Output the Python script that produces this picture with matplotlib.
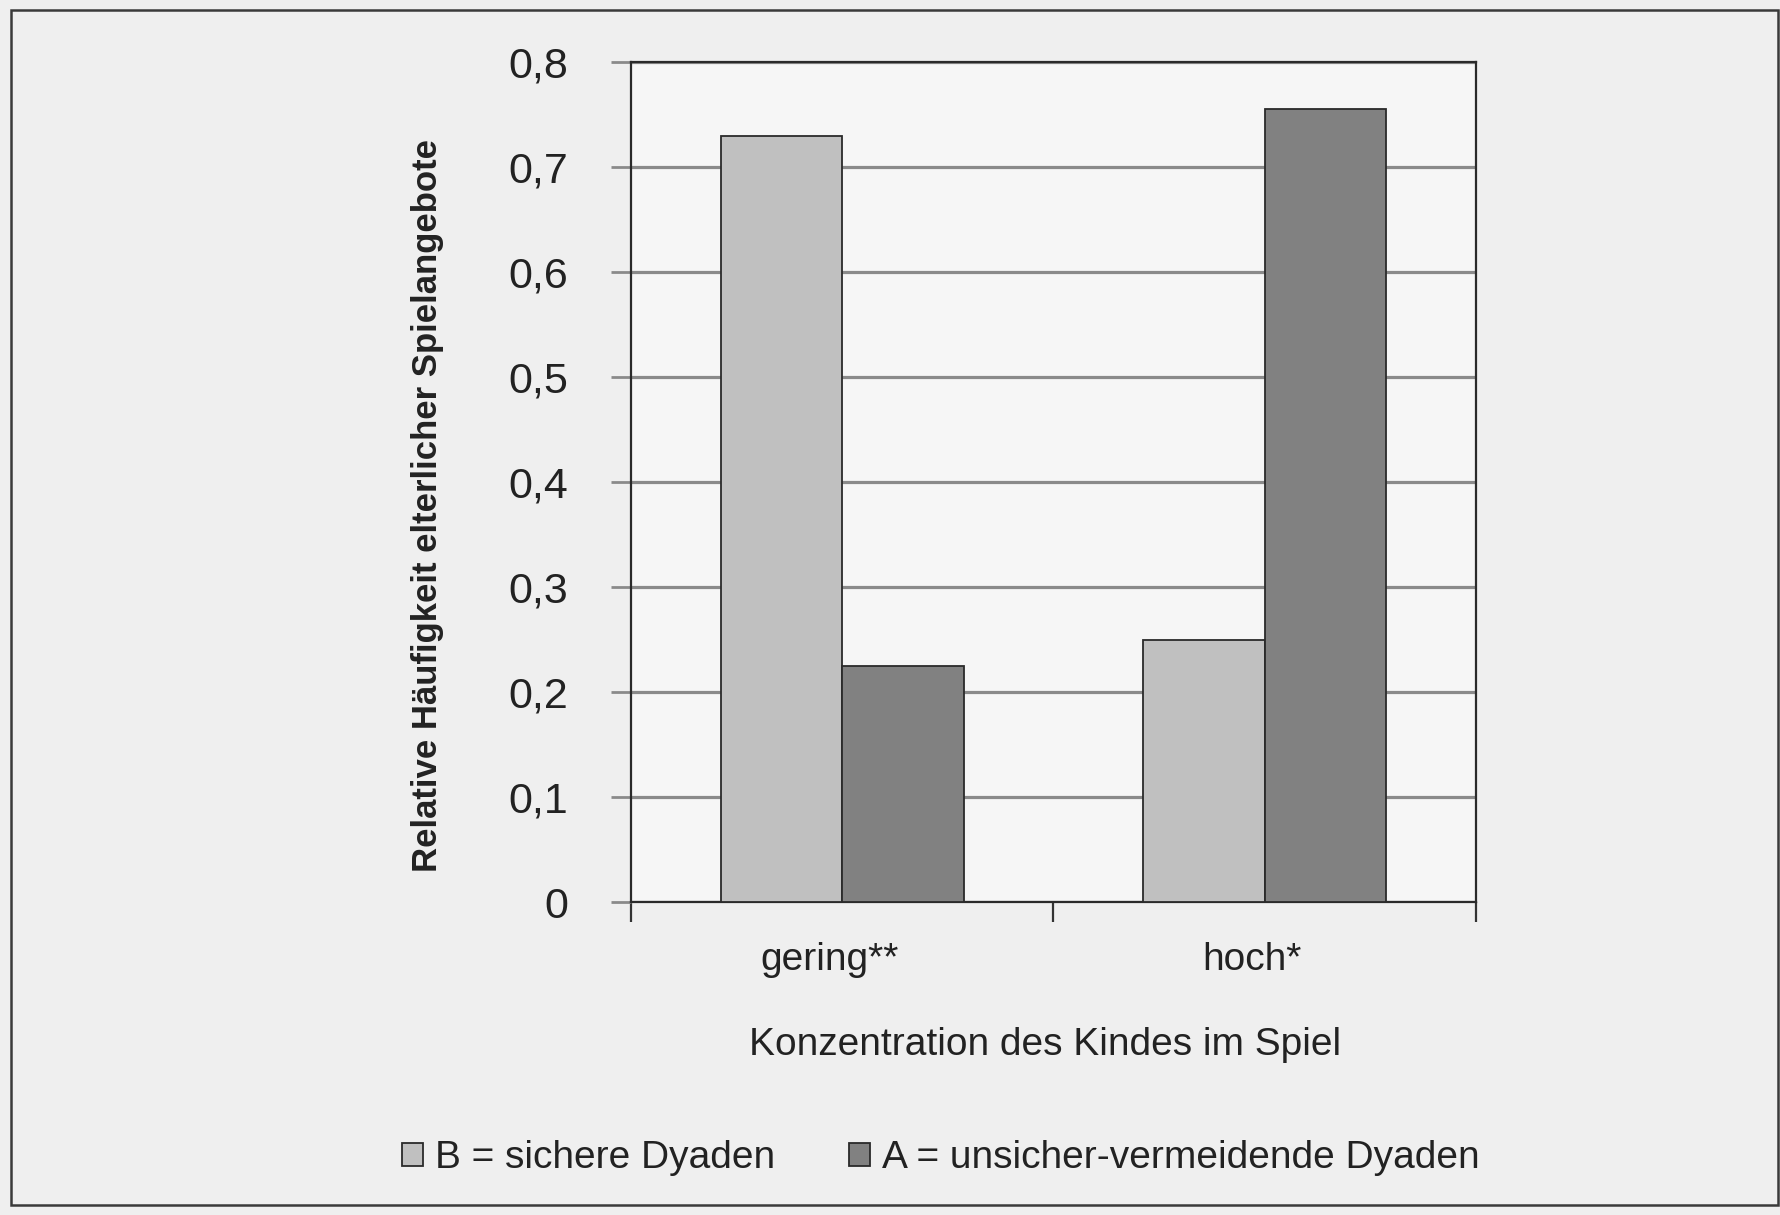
import matplotlib
matplotlib.use("Agg")
import matplotlib.pyplot as plt
from matplotlib.patches import Rectangle
import matplotlib.transforms as mtransforms
import numpy as np

categories = ["gering**", "hoch*"]
series_names = ["B = sichere Dyaden", "A = unsicher-vermeidende Dyaden"]
values_B = [0.73, 0.25]
values_A = [0.225, 0.755]
yticks = [0, 0.1, 0.2, 0.3, 0.4, 0.5, 0.6, 0.7, 0.8]
ytick_labels = ["0", "0,1", "0,2", "0,3", "0,4", "0,5", "0,6", "0,7", "0,8"]
xlabel = "Konzentration des Kindes im Spiel"
ylabel = "Relative Häufigkeit elterlicher Spielangebote"

plt.rcParams['font.family'] = ['Liberation Sans', 'DejaVu Sans']
tsize = 28

W, H = 1781, 1215
fig = plt.figure(figsize=(W / 100, H / 100), dpi=100)
fig.patch.set_facecolor("#efefef")

ax = fig.add_axes([631 / W, 1 - 902 / H, (1476 - 631) / W, (902 - 62) / H])
ax.set_facecolor("#f6f6f6")

x = np.arange(len(categories))
w = 0.288
col_B = "#c0c0c0"
col_A = "#818181"
bB = ax.bar(x - w / 2, values_B, w, color=col_B, edgecolor="#2a2a2a", linewidth=1.3,
            label=series_names[0], zorder=3)
bA = ax.bar(x + w / 2, values_A, w, color=col_A, edgecolor="#2a2a2a", linewidth=1.3,
            label=series_names[1], zorder=3)

ax.set_xlim(-0.5, 1.5)
ax.set_ylim(0, 0.8)
ax.set_yticks(yticks)
ax.set_yticklabels(ytick_labels)
ax.yaxis.grid(True, color="#8a8a8a", linewidth=2.3, zorder=1)
ax.set_axisbelow(True)

ax.set_xticks(x)
ax.set_xticklabels(categories)
ax.set_xticks([-0.5, 0.5, 1.5], minor=True)
ax.tick_params(axis="x", which="major", length=0, pad=29, labelsize=tsize, colors="#222222")
ax.tick_params(axis="x", which="minor", length=14.5, width=1.6, color="#333333", direction="out")
ax.tick_params(axis="y", which="major", length=14.5, width=2.0, color="#8a8a8a", pad=31,
               labelsize=31, labelcolor="#222222", direction="out")
off = mtransforms.ScaledTranslation(-13 / 100, 0, fig.dpi_scale_trans)
for lab in ax.get_xticklabels():
    lab.set_transform(lab.get_transform() + off)

for s in ax.spines.values():
    s.set_color("#2a2a2a")
    s.set_linewidth(1.6)

fig.text(1045 / W, 1 - 1045 / H, xlabel, ha="center", va="center", fontsize=tsize,
         color="#222222")
fig.text(428 / W, 1 - 505 / H, ylabel, ha="center", va="center", rotation=90,
         fontsize=25, fontweight="bold", color="#222222")

leg = fig.legend(handles=[bB, bA], labels=series_names, loc="center left",
                 bbox_to_anchor=(402 / W, 1 - 1158 / H), ncol=2, frameon=False,
                 prop={'size': tsize},
                 handlelength=0.55, handleheight=0.55, handletextpad=0.3,
                 columnspacing=1.9, borderpad=0, borderaxespad=0)
for t in leg.get_texts():
    t.set_color("#222222")

fig.patches.append(Rectangle((11 / W, 1 - 1205 / H), (1778 - 11) / W, (1205 - 10) / H,
                             transform=fig.transFigure, fill=False, edgecolor="#3a3a3a",
                             linewidth=1.8))

fig.savefig("out.png", dpi=100, facecolor=fig.get_facecolor())
